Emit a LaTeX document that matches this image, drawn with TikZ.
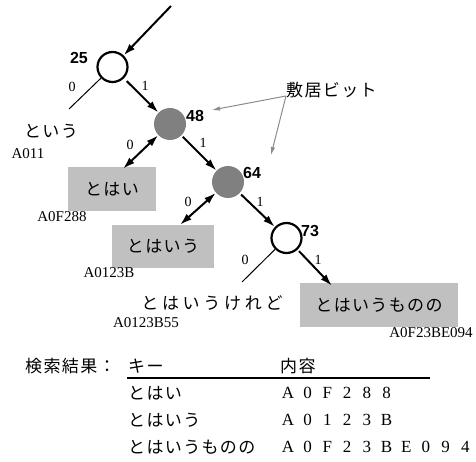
\documentclass[tikz,border=0pt]{standalone}
\usepackage{fontspec}
\setmainfont{Liberation Serif}
\newfontfamily\jp[LetterSpace=8]{Noto Sans CJK JP}
\newfontfamily\jpw[LetterSpace=22]{Noto Sans CJK JP}
\newfontfamily\hv{Liberation Sans}
\usetikzlibrary{arrows.meta}
\definecolor{boxgray}{HTML}{C0C0C0}
\definecolor{nodegray}{HTML}{808080}
\definecolor{arrgray}{HTML}{8C8C8C}
\newcommand\fwc[1]{\makebox[19.7pt][c]{#1}}
\begin{document}
\begin{tikzpicture}[x=1pt,y=-1pt,
  wc/.style={circle,draw,line width=2.2pt,minimum size=30pt,inner sep=0},
  gc/.style={circle,fill=nodegray,minimum size=32pt,inner sep=0},
  kbox/.style={fill=boxgray,inner sep=0,font=\jp\fontsize{17}{20}\selectfont},
  numlab/.style={font=\hv\bfseries\fontsize{16}{19}\selectfont,inner sep=0},
  bitlab/.style={font=\fontsize{14}{16}\selectfont,inner sep=0},
  codetxt/.style={font=\fontsize{15}{18}\selectfont,inner sep=0},
  valtxt/.style={font=\fontsize{17}{20}\selectfont,inner sep=0,anchor=west},
  jlab/.style={font=\jp\fontsize{17}{20}\selectfont,inner sep=0},
  arrowone/.style={line width=2pt,-{Latex[length=12pt,width=7.5pt]}},
  darrow/.style={line width=2pt,{Latex[length=12pt,width=7.5pt]}-{Latex[length=12pt,width=7.5pt]}},
  thinl/.style={line width=1pt},
  garrow/.style={draw=arrgray,line width=1pt,-{Latex[length=8pt,width=4.5pt]}}]
\useasboundingbox (0,0) rectangle (476,462);

% tree nodes
\node[wc] (n25) at (112.5,67) {};
\node[gc] (n48) at (170,124) {};
\node[gc] (n64) at (228,182) {};
\node[wc] (n73) at (286.5,238) {};

\node[numlab] (l25) at (79,58) {25};
\node[numlab] (l48) at (195,116) {48};
\node[numlab] (l64) at (252,173) {64};
\node[numlab] (l73) at (310,231) {73};

% boxes
\node[kbox,minimum width=88pt,minimum height=44pt] (b1) at (112,189) {とはい};
\node[kbox,minimum width=102pt,minimum height=43pt] (b2) at (163,246.5) {とはいう};
\node[kbox,minimum width=158pt,minimum height=44pt] (b3) at (379,305) {とはいうものの};

% free ends
\coordinate (in) at (171,6);
\coordinate (e25) at (69,109);
\coordinate (e73) at (242,282);

% connectors
\draw[arrowone] (in) -- (n25);
\draw[thinl] (n25) -- (e25);
\draw[arrowone,shorten <=4pt] (n25) -- (n48);
\draw[darrow] (n48) -- ([xshift=11pt,yshift=-2pt]b1.north);
\draw[arrowone,shorten <=2pt] (n48) -- (n64);
\draw[darrow] (n64) -- ([xshift=17pt]b2.north);
\draw[arrowone,shorten <=2pt] (n64) -- (n73);
\draw[thinl] (n73) -- (e73);
\draw[arrowone,shorten <=2pt] (n73) -- ([xshift=-47pt,yshift=-3pt]b3.north);

% edge labels
\node[bitlab] (z25) at (72,87) {0};
\node[bitlab] (o25) at (145,86) {1};
\node[bitlab] (z48) at (130,145) {0};
\node[bitlab] (o48) at (203,143) {1};
\node[bitlab] (z64) at (188,202) {0};
\node[bitlab] (o64) at (260,202) {1};
\node[bitlab] (z73) at (245,260) {0};
\node[bitlab] (o73) at (318,260) {1};

% leaf texts
\node[jlab] (t1) at (51,131) {という};
\node[codetxt] (c1) at (28,154) {A011};
\node[codetxt] (c2) at (62,217) {A0F288};
\node[codetxt] (c3) at (109,273) {A0123B};
\node[jlab,font=\jpw\fontsize{17}{20}\selectfont] (t2) at (212,303) {とはいうけれど};
\node[codetxt] (c4) at (146,323) {A0123B55};
\node[codetxt] (c5) at (431,333) {A0F23BE094};

% threshold bit label
\node[jlab,anchor=south west] (sk) at (286,98) {敷居ビット};
\coordinate (g1) at (212,110);
\coordinate (g2) at (271,155);
\draw[garrow] ([yshift=2pt]sk.south west) -- (g1);
\draw[garrow] ([yshift=2pt]sk.south west) -- (g2);

% result table
\node[jlab,anchor=west] (h0) at (25,366) {検索結果：};
\node[jlab,anchor=west] (h1) at (128,366) {キー};
\node[jlab,anchor=west] (h2) at (280,366) {内容};
\coordinate (r0) at (127,378);
\coordinate (r1) at (430,378);
\draw[line width=1.2pt] (r0) -- (r1);
\node[jlab,anchor=west] (k1) at (128,393) {とはい};
\node[jlab,anchor=west] (k2) at (128,420) {とはいう};
\node[jlab,anchor=west] (k3) at (128,447) {とはいうものの};
\node[valtxt] (v1) at (278,393) {\fwc{A}\fwc{0}\fwc{F}\fwc{2}\fwc{8}\fwc{8}};
\node[valtxt] (v2) at (278,420) {\fwc{A}\fwc{0}\fwc{1}\fwc{2}\fwc{3}\fwc{B}};
\node[valtxt] (v3) at (278,447) {\fwc{A}\fwc{0}\fwc{F}\fwc{2}\fwc{3}\fwc{B}\fwc{E}\fwc{0}\fwc{9}\fwc{4}};
\end{tikzpicture}
\end{document}
